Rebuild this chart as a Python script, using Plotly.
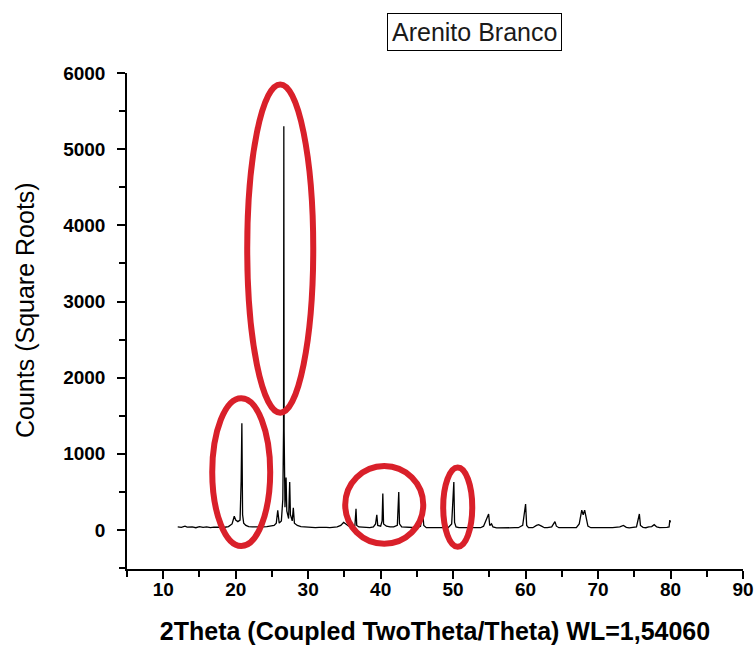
import plotly.graph_objects as go

# ---- data ----
two_theta = [
    12.0, 12.5, 13.0, 13.3, 14.0, 14.5, 15.0, 15.5, 16.0, 16.5, 17.0, 17.5, 18.0, 18.5, 19.0,
    19.5, 19.8, 20.0, 20.3, 20.6, 20.75, 20.85, 20.95, 21.1, 21.4, 21.8, 22.3, 22.8, 23.3, 23.8,
    24.3, 24.8, 25.3, 25.6, 25.8, 26.0, 26.3, 26.5, 26.6, 26.64, 26.68, 26.8, 26.95, 27.05, 27.3,
    27.45, 27.55, 27.8, 27.95, 28.1, 28.5, 29.0, 29.5, 30.0, 30.5, 31.0, 31.5, 32.0, 32.5, 33.0,
    33.5, 34.0, 34.5, 34.9, 35.2, 35.6, 36.0, 36.45, 36.6, 36.7, 37.0, 37.5, 38.0, 38.5, 39.0,
    39.3, 39.47, 39.6, 40.0, 40.2, 40.3, 40.4, 40.8, 41.3, 41.8, 42.3, 42.5, 42.6, 42.9, 43.5,
    44.0, 44.5, 45.0, 45.5, 45.8, 45.95, 46.3, 46.8, 47.3, 47.8, 48.3, 48.8, 49.3, 49.8, 50.1,
    50.2, 50.4, 50.8, 51.3, 51.8, 52.3, 52.8, 53.3, 53.8, 54.2, 54.9, 55.05, 55.3, 55.5, 56.0,
    56.5, 57.0, 57.5, 58.0, 58.5, 59.0, 59.6, 60.0, 60.15, 60.4, 61.0, 61.5, 61.8, 62.2, 62.6,
    63.0, 63.6, 64.05, 64.25, 64.6, 65.0, 65.5, 66.0, 66.5, 67.0, 67.4, 67.75, 67.95, 68.15, 68.35,
    68.6, 69.0, 69.5, 70.0, 70.5, 71.0, 71.5, 72.0, 72.5, 73.0, 73.5, 73.9, 74.3, 74.8, 75.3,
    75.7, 75.85, 76.2, 76.6, 77.0, 77.4, 77.75, 78.1, 78.5, 79.0, 79.5, 79.8, 79.9, 80.0,
]
counts = [
    40, 35, 50, 38, 42, 30, 45, 35, 40, 32, 38, 34, 40, 36, 45,
    80, 180, 130, 110, 130, 640, 1400, 200, 90, 60, 45, 40, 38, 42, 40,
    45, 50, 60, 90, 260, 90, 120, 400, 1310, 5300, 1300, 300, 690, 250, 150,
    630, 200, 120, 290, 90, 60, 45, 40, 35, 38, 30, 35, 30, 34, 30,
    32, 40, 60, 100, 80, 50, 40, 60, 280, 60, 40, 35, 35, 30, 40,
    80, 200, 60, 50, 120, 480, 80, 50, 40, 40, 60, 500, 80, 40, 35,
    30, 32, 30, 50, 240, 60, 30, 30, 28, 30, 30, 35, 30, 80, 630,
    100, 40, 30, 28, 30, 30, 28, 30, 30, 50, 210, 60, 80, 40, 28,
    30, 25, 30, 28, 30, 30, 60, 340, 60, 30, 30, 60, 70, 50, 30,
    30, 40, 110, 50, 30, 28, 30, 28, 30, 30, 80, 260, 200, 260, 150,
    50, 30, 28, 30, 30, 28, 30, 30, 35, 40, 60, 35, 28, 30, 40,
    210, 60, 35, 30, 40, 45, 70, 40, 30, 28, 35, 40, 130, 100,
]

x_tick_vals = [10, 20, 30, 40, 50, 60, 70, 80, 90]
y_tick_vals = [0, 1000, 2000, 3000, 4000, 5000, 6000]

# highlight ellipses (x0, x1, y0, y1) in data units
ellipses = [
    (16.76, 24.76, -210, 1730),
    (21.59, 30.70, 1540, 5850),
    (35.11, 45.88, -180, 840),
    (48.63, 52.64, -220, 820),
]

fig = go.Figure()
fig.add_trace(go.Scatter(
    x=two_theta, y=counts, mode="lines",
    line=dict(color="black", width=1.3),
    showlegend=False, hoverinfo="skip",
))

for (x0, x1, y0, y1) in ellipses:
    fig.add_shape(type="circle", xref="x", yref="y", x0=x0, x1=x1, y0=y0, y1=y1,
                  line=dict(color="#d9202a", width=6))

FAM = "Liberation Sans, Arial, sans-serif"
tick_font = dict(family=FAM, size=19, color="black", weight="bold")

fig.update_layout(
    width=754, height=646,
    margin=dict(l=127, r=11, t=73, b=77),
    paper_bgcolor="white", plot_bgcolor="white",
    showlegend=False,
    xaxis=dict(
        range=[5, 90], tickvals=x_tick_vals, ticktext=[str(v) for v in x_tick_vals],
        showline=True, linecolor="black", linewidth=1.5,
        ticks="outside", ticklen=8, tickwidth=1.5, tickcolor="black",
        minor=dict(dtick=5, tick0=0, ticks="outside", ticklen=6, tickwidth=1.5, tickcolor="black"),
        showgrid=False, zeroline=False, automargin=False,
        tickfont=tick_font, ticklabelstandoff=-6,
        title=dict(text="2Theta (Coupled TwoTheta/Theta) WL=1,54060",
                   font=dict(family=FAM, size=25, color="black", weight="bold"), standoff=24),
    ),
    yaxis=dict(
        range=[-512, 6000], tickvals=y_tick_vals, ticktext=[str(v) for v in y_tick_vals],
        showline=True, linecolor="black", linewidth=1.5,
        ticks="outside", ticklen=8, tickwidth=1.5, tickcolor="black",
        minor=dict(dtick=500, tick0=0, ticks="outside", ticklen=6, tickwidth=1.5, tickcolor="black"),
        showgrid=False, zeroline=False, automargin=False,
        tickfont=tick_font, ticklabelstandoff=8,
    ),
    annotations=[
        dict(
            text="Arenito Branco", xref="paper", yref="paper",
            x=(474.7 - 127) / 616, y=1 + (73 - 32.3) / 496,
            xanchor="center", yanchor="middle",
            showarrow=False, font=dict(family=FAM, size=25, color="#1a1a1a"),
            bordercolor="black", borderwidth=1, borderpad=4, bgcolor="white",
        ),
        dict(
            text="Counts (Square Roots)", xref="paper", yref="paper",
            x=(25 - 127) / 616, y=(569 - 310) / 496,
            xanchor="center", yanchor="middle", textangle=-90,
            showarrow=False, font=dict(family=FAM, size=25, color="black"),
        ),
    ],
)

fig.write_html("out.html")
